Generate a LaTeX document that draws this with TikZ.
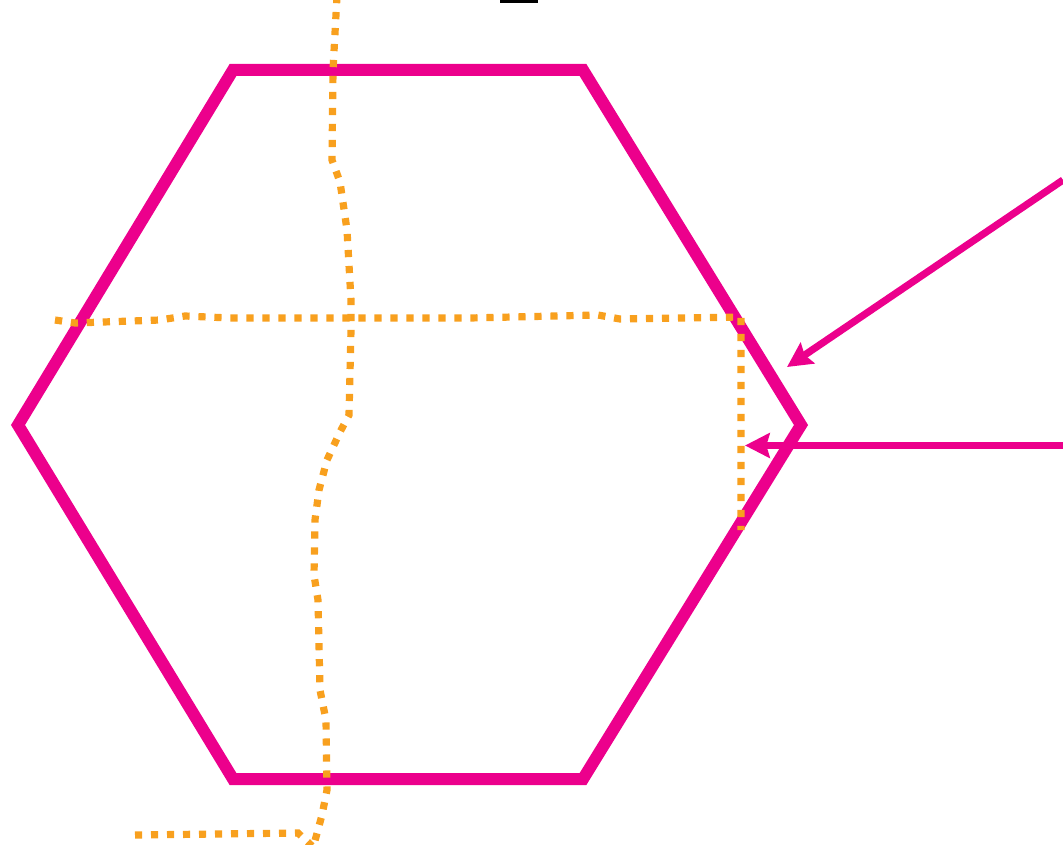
\documentclass[tikz,border=0pt]{standalone}
\usepackage{xcolor}
\usepackage{tikz}
\usetikzlibrary{arrows.meta, calc}
\definecolor{hexpink}{HTML}{EC008C}
\definecolor{cutorange}{HTML}{F8A01E}

\begin{document}
\begin{tikzpicture}[x=0.75pt, y=-0.75pt,
    hexline/.style={draw=hexpink, line width=9pt, line join=miter},
    cutline/.style={draw=cutorange, line width=5.4pt, dash pattern=on 5.4pt off 6.6pt},
    pointer/.style={draw=hexpink, line width=5.4pt, -{Stealth[length=18.5pt, width=18.5pt, inset=2.5pt]}}]
  \useasboundingbox (0,0) rectangle (1063,845);

  % hexagon
  \coordinate (tl) at (233,70);
  \coordinate (tr) at (583,70);
  \coordinate (r) at (801,425);
  \coordinate (br) at (583,779);
  \coordinate (bl) at (233,779);
  \coordinate (l) at (18,425);
  \draw[hexline] (tl) -- (tr) -- (r) -- (br) -- (bl) -- (l) -- cycle;

  % small mark at the top
  \fill[black] (500,0) rectangle (538,3);

  % dotted cut lines
  \draw[cutline] (337,-4) -- (333,70) -- (332,160) -- (340,182) -- (347,230)
    -- (351,300) -- (351,330) -- (349,415) -- (340,432) -- (327,460)
    -- (319,490) -- (315,520) -- (314,575) -- (318,600) -- (320,690)
    -- (326,720) -- (327,790) -- (322,815) -- (313,848);
  \draw[cutline] (135,835) -- (298,833) -- (312,846);
  \draw[cutline] (55,320) -- (75,323) -- (160,320) -- (185,316) -- (230,318)
    -- (470,318) -- (598,315) -- (620,319) -- (741,317) -- (741,530);

  % arrows
  \coordinate (a1s) at (1063,180);
  \coordinate (a1e) at (787,367);
  \coordinate (a2s) at (1063,445.5);
  \coordinate (a2e) at (745,445.5);
  \draw[pointer] (a1s) -- (a1e);
  \draw[pointer] (a2s) -- (a2e);
\end{tikzpicture}
\end{document}
